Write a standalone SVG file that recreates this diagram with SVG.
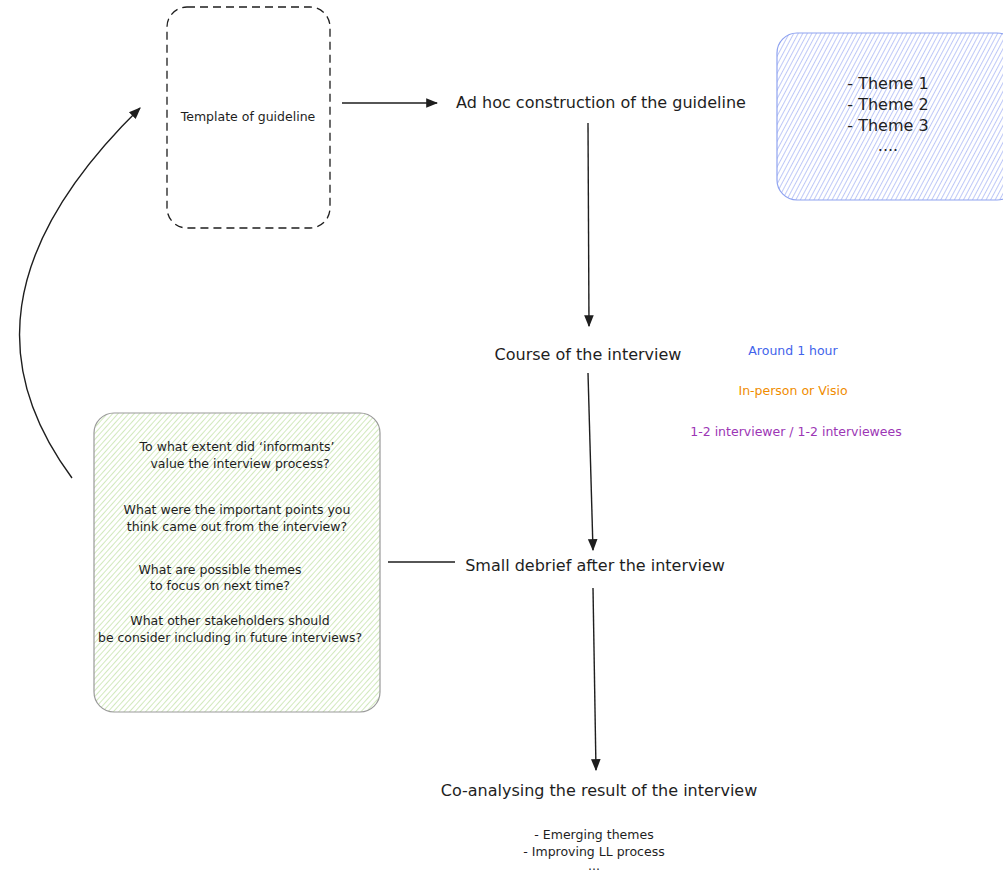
<svg xmlns="http://www.w3.org/2000/svg" width="1003" height="872" viewBox="0 0 1003 872">
<style>
text{font-family:"DejaVu Sans","Liberation Sans",sans-serif;fill:#1e1e1e;text-anchor:middle}
.big{font-size:16px}
.small{font-size:12.5px}
.conn{fill:none;stroke:#1e1e1e;stroke-width:1.4}
</style>
<defs>
<marker id="ah" viewBox="0 0 10 10" refX="9" refY="5" markerWidth="12" markerHeight="12" markerUnits="userSpaceOnUse" orient="auto">
<path d="M0,1 L10,5 L0,9 z" fill="#1e1e1e"/>
</marker>
<pattern id="hb" width="4" height="4" patternUnits="userSpaceOnUse" patternTransform="rotate(28)">
<line x1="0" y1="0" x2="0" y2="4" stroke="#6f86ee" stroke-width="0.9"/>
</pattern>
<pattern id="hg" width="4" height="4" patternUnits="userSpaceOnUse" patternTransform="rotate(42)">
<line x1="0" y1="0" x2="0" y2="4" stroke="#a6d47e" stroke-width="1"/>
</pattern>
</defs>
<rect width="1003" height="872" fill="#ffffff"/>
<g id="connectors">
<line class="conn" x1="342" y1="103" x2="437" y2="103" marker-end="url(#ah)"/>
<line class="conn" x1="588" y1="123" x2="589" y2="326" marker-end="url(#ah)"/>
<line class="conn" x1="588" y1="373" x2="593" y2="550" marker-end="url(#ah)"/>
<line class="conn" x1="388" y1="562" x2="455" y2="562"/>
<line class="conn" x1="593" y1="588" x2="596" y2="770" marker-end="url(#ah)"/>
<path class="conn" d="M72,478 C-8,370 -5,250 140,108" marker-end="url(#ah)"/>
</g>
<g id="template">
<rect x="167" y="7" width="163" height="221" rx="20" fill="none" stroke="#1e1e1e" stroke-width="1.3" stroke-dasharray="8,5"/>
<text class="small" x="248" y="121">Template of guideline</text>
</g>
<g id="adhoc">
<text class="big" x="601" y="108">Ad hoc construction of the guideline</text>
</g>
<g id="themes">
<rect x="777" y="33" width="240" height="167" rx="20" fill="url(#hb)" stroke="#8fa3f0" stroke-width="1.2"/>
<text class="big" x="888" y="89">- Theme 1</text>
<text class="big" x="888" y="110">- Theme 2</text>
<text class="big" x="888" y="131">- Theme 3</text>
<text class="big" x="888" y="151">....</text>
</g>
<g id="course">
<text class="big" x="588" y="360">Course of the interview</text>
</g>
<g id="details">
<text class="small" x="793" y="355" style="fill:#4263eb">Around 1 hour</text>
<text class="small" x="793" y="395" style="fill:#f08c00">In-person or Visio</text>
<text class="small" x="796" y="436" style="fill:#9c36b5">1-2 interviewer / 1-2 interviewees</text>
</g>
<g id="debrief">
<text class="big" x="595" y="571">Small debrief after the interview</text>
</g>
<g id="questions">
<rect x="94" y="413" width="286" height="299" rx="20" fill="url(#hg)" stroke="#9a9a9a" stroke-width="1.2"/>
<text class="small" x="237" y="451">To what extent did ‘informants’</text>
<text class="small" x="240" y="468">value the interview process?</text>
<text class="small" x="237" y="514">What were the important points you</text>
<text class="small" x="237" y="531">think came out from the interview?</text>
<text class="small" x="220" y="574">What are possible themes</text>
<text class="small" x="220" y="590">to focus on next time?</text>
<text class="small" x="230" y="625">What other stakeholders should</text>
<text class="small" x="230" y="642" textLength="264" lengthAdjust="spacingAndGlyphs">be consider including in future interviews?</text>
</g>
<g id="coanalysing">
<text class="big" x="599" y="796">Co-analysing the result of the interview</text>
<text class="small" x="594" y="839">- Emerging themes</text>
<text class="small" x="594" y="856">- Improving LL process</text>
<text class="small" x="594" y="870">...</text>
</g>
</svg>
